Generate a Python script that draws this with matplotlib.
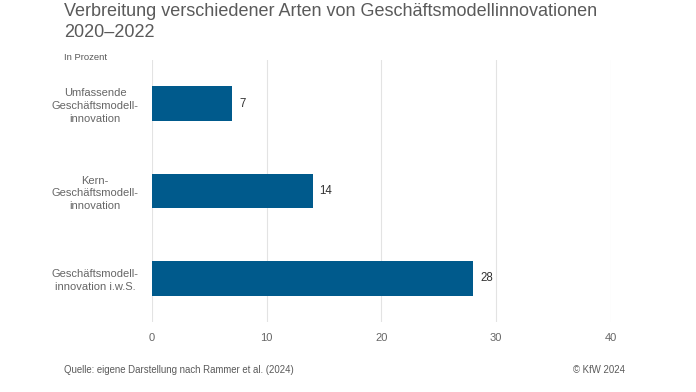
import matplotlib.pyplot as plt

categories = ['Umfassende\nGeschäftsmodell-\ninnovation',
              'Kern-\nGeschäftsmodell-\ninnovation',
              'Geschäftsmodell-\ninnovation i.w.S.']
values = [7, 14, 28]
xticks = [0, 10, 20, 30, 40]

plt.rcParams['font.family'] = ['Liberation Sans', 'DejaVu Sans']
grey = '#5a5a5a'

fig = plt.figure(figsize=(6.96, 3.92), dpi=100)
ax = fig.add_axes([152 / 696, 1 - 322 / 392, (611 - 152) / 696, 262 / 392])

pos = list(range(len(categories)))
ax.barh(pos, values, height=0.4, color='#005a8c', zorder=3)
for p, v in zip(pos, values):
    ax.text(v + 0.6, p, str(v), va='center', ha='left', fontsize=8.3, color='#333333')

ax.set_ylim(2.5, -0.5)
ax.set_xlim(0, 40)
ax.set_xticks(xticks)
ax.set_yticks(pos)
ax.set_yticklabels(categories, ha='center', multialignment='center', fontsize=8,
                   color='#666666', linespacing=1.35)
ax.tick_params(axis='y', length=0, pad=41)
ax.tick_params(axis='x', length=0, pad=8, labelsize=8, labelcolor='#666666')
ax.grid(axis='x', color='#e3e3e3', linewidth=0.8, zorder=0)
for s in ax.spines.values():
    s.set_visible(False)

fig.text(64 / 696, 1 - 3 / 392, 'Verbreitung verschiedener Arten von Geschäftsmodellinnovationen\n2020–2022',
         ha='left', va='top', fontsize=13, color=grey, linespacing=1.3)
fig.text(64 / 696, 1 - 57 / 392, 'In Prozent', ha='left', va='center', fontsize=6.8, color=grey)
fig.text(64 / 696, 1 - 370 / 392, 'Quelle: eigene Darstellung nach Rammer et al. (2024)',
         ha='left', va='center', fontsize=6.9, color=grey)
fig.text(625 / 696, 1 - 370 / 392, '© KfW 2024', ha='right', va='center', fontsize=6.9, color=grey)

fig.savefig('out.png', dpi=100)
